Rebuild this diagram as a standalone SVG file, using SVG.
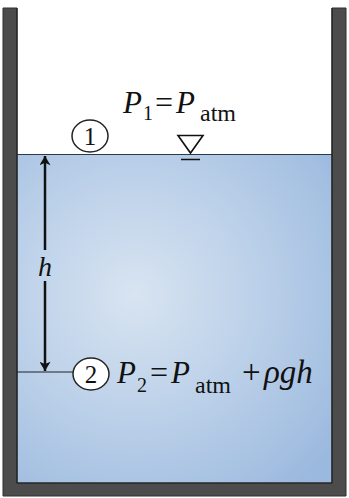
<svg xmlns="http://www.w3.org/2000/svg" width="349" height="498" viewBox="0 0 349 498">
<defs>
<radialGradient id="water" cx="135" cy="295" r="250" gradientUnits="userSpaceOnUse">
<stop offset="0" stop-color="#d8e4f1"/>
<stop offset="0.55" stop-color="#b8cee8"/>
<stop offset="1" stop-color="#9bb9de"/>
</radialGradient>
<marker id="ah" viewBox="0 0 10 12" refX="10" refY="6" markerWidth="13" markerHeight="11" markerUnits="userSpaceOnUse" orient="auto-start-reverse">
<path d="M0,0 L10,6 L0,12 L2.5,6 Z" fill="#111"/>
</marker>
<style>
.t{font-family:"Liberation Serif","Times New Roman",serif;fill:#111}
.i{font-style:italic}
.c{fill:#fff;stroke:#222;stroke-width:1.5}
.wall{fill:#4d4c4c;stroke:#2e2e2e;stroke-width:1}
</style>
</defs>
<rect width="349" height="498" fill="#fff"/>
<g id="water-body">
<rect x="17" y="154.5" width="315" height="329" fill="url(#water)"/>
<line x1="17" y1="154.5" x2="332" y2="154.5" stroke="#2a3a4a" stroke-width="1.2"/>
</g>
<g id="tank">
<path class="wall" d="M3,8 H17 V483 H332 V8 H346 V496 H3 Z"/>
<path d="M17,8 V483 H332 V8" fill="none" stroke="#222" stroke-width="1.2"/>
</g>
<g id="connectors">
<line x1="17" y1="372" x2="73" y2="372" stroke="#222" stroke-width="1.2"/>
<line x1="45" y1="250" x2="45" y2="156" stroke="#111" stroke-width="2.5" marker-end="url(#ah)"/>
<line x1="45" y1="281" x2="45" y2="371" stroke="#111" stroke-width="2.5" marker-end="url(#ah)"/>
</g>
<g id="h-label"><text class="t i" x="38" y="276" font-size="28">h</text></g>
<g id="point1">
<ellipse class="c" cx="90" cy="136" rx="18" ry="16"/>
<text class="t" x="90" y="145" font-size="25" text-anchor="middle">1</text>
</g>
<g id="point2">
<ellipse class="c" cx="91" cy="374" rx="18" ry="16"/>
<text class="t" x="91" y="383" font-size="25" text-anchor="middle">2</text>
</g>
<g id="surface-mark">
<path d="M178,135.5 H203 L190.5,153 Z" fill="none" stroke="#111" stroke-width="1.6"/>
<line x1="181" y1="159.5" x2="200" y2="159.5" stroke="#111" stroke-width="1.5"/>
</g>
<g id="label1">
<text class="t i" x="123" y="113" font-size="31">P</text>
<text class="t" x="143" y="120" font-size="20">1</text>
<text class="t" x="155" y="113" font-size="32">=</text>
<text class="t i" x="176" y="113" font-size="31">P</text>
<text class="t" x="200" y="121" font-size="24">atm</text>
</g>
<g id="label2">
<text class="t i" x="117" y="383" font-size="31">P</text>
<text class="t" x="137" y="392" font-size="20">2</text>
<text class="t" x="150" y="383" font-size="32">=</text>
<text class="t i" x="171" y="383" font-size="31">P</text>
<text class="t" x="195" y="393" font-size="24">atm</text>
<text class="t" x="242" y="383" font-size="33">+</text>
<text class="t i" x="264" y="383" font-size="33">ρgh</text>
</g>
</svg>
